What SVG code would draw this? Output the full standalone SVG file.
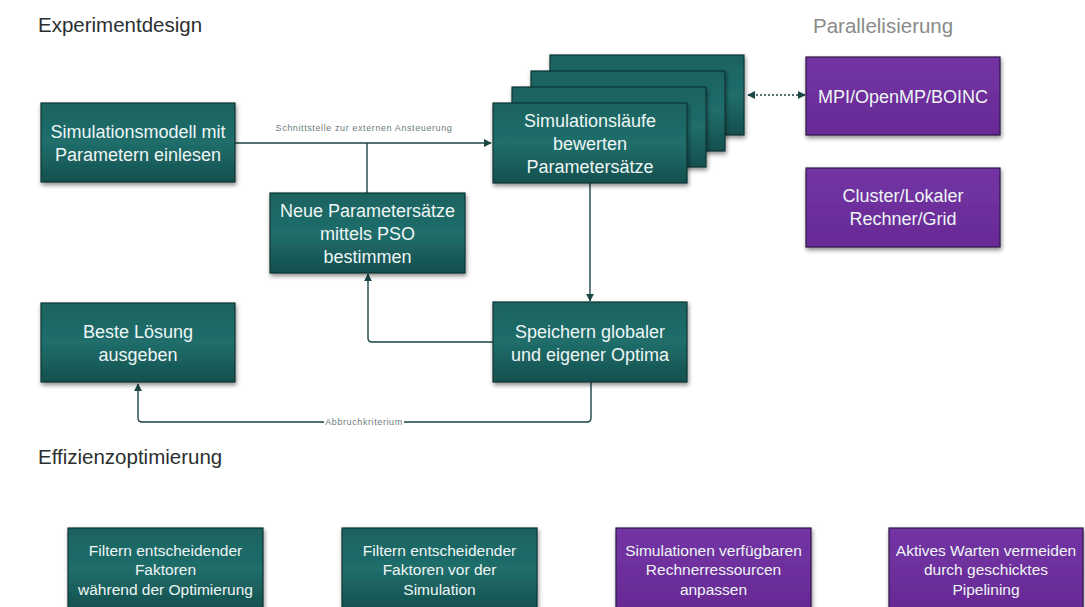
<svg xmlns="http://www.w3.org/2000/svg" width="1085" height="607" viewBox="0 0 1085 607">
<defs>
<linearGradient id="teal" x1="0" y1="0" x2="0" y2="1">
<stop offset="0" stop-color="#1a6260"/>
<stop offset="0.5" stop-color="#206e6b"/>
<stop offset="1" stop-color="#144f4e"/>
</linearGradient>
<linearGradient id="purple" x1="0" y1="0" x2="0" y2="1">
<stop offset="0" stop-color="#7434a5"/>
<stop offset="1" stop-color="#672a94"/>
</linearGradient>
<filter id="sh" x="-10%" y="-10%" width="125%" height="130%">
<feDropShadow dx="1" dy="2.5" stdDeviation="2" flood-color="#000" flood-opacity="0.45"/>
</filter>
<marker id="ah" viewBox="0 0 10 10" refX="9" refY="5" markerWidth="8" markerHeight="8" markerUnits="userSpaceOnUse" orient="auto-start-reverse">
<path d="M0,0 L10,5 L0,10 z" fill="#1b4646"/>
</marker>
<style>
.t{fill:url(#teal);stroke:#0c3535;stroke-width:1.2;filter:url(#sh)}
.p{fill:url(#purple);stroke:#2e1a44;stroke-width:1.2;filter:url(#sh)}
.nt{font-family:"Liberation Sans",Arial,sans-serif;font-size:18px;fill:#eef5f5;text-anchor:middle}
.bt{font-family:"Liberation Sans",Arial,sans-serif;font-size:15.5px;fill:#eef5f5;text-anchor:middle}
.ti{font-family:"Liberation Sans",Arial,sans-serif;font-size:20.5px;fill:#2b2f2f}
.lb{font-family:"Liberation Sans",Arial,sans-serif;font-size:9px;letter-spacing:0.6px;fill:#6b7c7c;text-anchor:middle}
.c{fill:none;stroke:#1b4646;stroke-width:1.4}
</style>
</defs>
<rect width="1085" height="607" fill="#ffffff"/>

<g id="titles">
<text class="ti" x="38" y="32">Experimentdesign</text>
<text class="ti" x="813" y="33" style="fill:#8a8a8a">Parallelisierung</text>
<text class="ti" x="38" y="464">Effizienzoptimierung</text>
</g>

<g id="connectors">
<path class="c" d="M235,143 H491" marker-end="url(#ah)"/>
<path class="c" d="M367,193 V143"/>
<path class="c" d="M590,183 V301" marker-end="url(#ah)"/>
<path class="c" d="M493,342 H372 Q368,342 368,338 V274" marker-end="url(#ah)"/>
<path class="c" d="M591,382 V418 Q591,422 587,422 H142 Q138,422 138,418 V384" marker-end="url(#ah)"/>
<path class="c" d="M748,95 H805" stroke-dasharray="2,2" marker-start="url(#ah)" marker-end="url(#ah)"/>
<text class="lb" x="364" y="131">Schnittstelle zur externen Ansteuerung</text>
<rect x="324" y="416" width="80" height="12" fill="#ffffff"/>
<text class="lb" x="364" y="425">Abbruchkriterium</text>
</g>

<g id="n-einlesen">
<rect class="t" x="41" y="103" width="194" height="79"/>
<text class="nt" x="138" y="137.5">Simulationsmodell mit</text>
<text class="nt" x="138" y="160.5">Parametern einlesen</text>
</g>

<g id="n-simulationslaeufe">
<rect class="t" x="550" y="55" width="194" height="80"/>
<rect class="t" x="531" y="71" width="194" height="80"/>
<rect class="t" x="512" y="87" width="194" height="80"/>
<rect class="t" x="493" y="103" width="194" height="80"/>
<text class="nt" x="590" y="126.5">Simulationsläufe</text>
<text class="nt" x="590" y="149.5">bewerten</text>
<text class="nt" x="590" y="172.5">Parametersätze</text>
</g>

<g id="n-pso">
<rect class="t" x="270" y="193" width="195" height="80"/>
<text class="nt" x="367.5" y="216.5">Neue Parametersätze</text>
<text class="nt" x="367.5" y="239.5">mittels PSO</text>
<text class="nt" x="367.5" y="262.5">bestimmen</text>
</g>

<g id="n-beste">
<rect class="t" x="41" y="303" width="194" height="79"/>
<text class="nt" x="138" y="337.5">Beste Lösung</text>
<text class="nt" x="138" y="360.5">ausgeben</text>
</g>

<g id="n-speichern">
<rect class="t" x="493" y="302" width="194" height="80"/>
<text class="nt" x="590" y="337.5">Speichern globaler</text>
<text class="nt" x="590" y="360.5">und eigener Optima</text>
</g>

<g id="n-mpi">
<rect class="p" x="806" y="57" width="194" height="78"/>
<text class="nt" x="903" y="102.5">MPI/OpenMP/BOINC</text>
</g>

<g id="n-cluster">
<rect class="p" x="806" y="168" width="194" height="79"/>
<text class="nt" x="903" y="201.5">Cluster/Lokaler</text>
<text class="nt" x="903" y="224.5">Rechner/Grid</text>
</g>

<g id="n-filter1">
<rect class="t" x="68" y="528" width="195" height="82"/>
<text class="bt" x="165.5" y="555.5">Filtern entscheidender</text>
<text class="bt" x="165.5" y="575">Faktoren</text>
<text class="bt" x="165.5" y="594.5">während der Optimierung</text>
</g>

<g id="n-filter2">
<rect class="t" x="342" y="528" width="195" height="82"/>
<text class="bt" x="439.5" y="555.5">Filtern entscheidender</text>
<text class="bt" x="439.5" y="575">Faktoren vor der</text>
<text class="bt" x="439.5" y="594.5">Simulation</text>
</g>

<g id="n-ressourcen">
<rect class="p" x="616" y="528" width="195" height="82"/>
<text class="bt" x="713.5" y="555.5">Simulationen verfügbaren</text>
<text class="bt" x="713.5" y="575">Rechnerressourcen</text>
<text class="bt" x="713.5" y="594.5">anpassen</text>
</g>

<g id="n-pipelining">
<rect class="p" x="889" y="528" width="194" height="82"/>
<text class="bt" x="986" y="555.5">Aktives Warten vermeiden</text>
<text class="bt" x="986" y="575">durch geschicktes</text>
<text class="bt" x="986" y="594.5">Pipelining</text>
</g>
</svg>
